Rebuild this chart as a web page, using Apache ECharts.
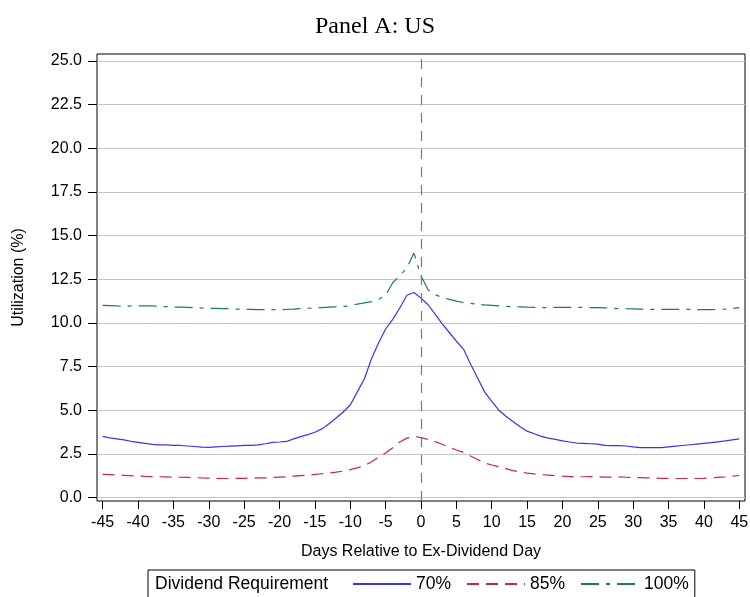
<!DOCTYPE html>
<html>
<head>
<meta charset="UTF-8"/>
<title>Panel A: US</title>
<style>
    * { margin: 0; padding: 0; }
    body { background: #fff; }
    #chart { width: 750px; height: 597px; }
</style>
<script src="https://cdn.jsdelivr.net/npm/echarts@6/dist/echarts.min.js"></script>
</head>
<body>
<div id="chart"></div>
<script>
    // days relative to the ex-dividend day
    const days = []
    for (let d = -45; d <= 45; d++) days.push(d)

    // utilization (%), one value per day
    const util70 = [
        3.50, 3.42, 3.36, 3.30, 3.22, 3.16, 3.10, 3.04, 3.02, 3.01,
        2.99, 2.98, 2.95, 2.92, 2.88, 2.87, 2.90, 2.92, 2.94, 2.96,
        2.98, 2.99, 3.01, 3.08, 3.16, 3.18, 3.21, 3.36, 3.49, 3.60,
        3.74, 3.93, 4.22, 4.55, 4.90, 5.30, 6.05, 6.80, 7.95, 8.85,
        9.65, 10.20, 10.85, 11.58, 11.74, 11.42, 11.04, 10.50, 9.95, 9.45,
        8.95, 8.50, 7.65, 6.85, 6.05, 5.50, 5.00, 4.65, 4.35, 4.05,
        3.80, 3.65, 3.50, 3.40, 3.33, 3.24, 3.18, 3.12, 3.10, 3.08,
        3.06, 2.99, 2.97, 2.97, 2.95, 2.90, 2.86, 2.86, 2.86, 2.86,
        2.90, 2.94, 2.98, 3.02, 3.06, 3.10, 3.14, 3.19, 3.24, 3.30,
        3.36
    ]
    const util85 = [
        1.33, 1.31, 1.29, 1.27, 1.25, 1.23, 1.21, 1.20, 1.19, 1.18,
        1.17, 1.16, 1.15, 1.14, 1.12, 1.11, 1.10, 1.09, 1.09, 1.10,
        1.10, 1.11, 1.12, 1.13, 1.15, 1.17, 1.19, 1.22, 1.25, 1.28,
        1.32, 1.36, 1.40, 1.45, 1.51, 1.60, 1.70, 1.82, 2.05, 2.30,
        2.55, 2.85, 3.18, 3.40, 3.50, 3.43, 3.32, 3.20, 3.05, 2.88,
        2.72, 2.58, 2.38, 2.18, 1.98, 1.86, 1.76, 1.65, 1.54, 1.47,
        1.40, 1.35, 1.31, 1.28, 1.25, 1.22, 1.20, 1.19, 1.19, 1.20,
        1.19, 1.17, 1.17, 1.18, 1.16, 1.15, 1.14, 1.13, 1.12, 1.10,
        1.09, 1.09, 1.09, 1.09, 1.09, 1.10, 1.12, 1.15, 1.18, 1.22,
        1.26
    ]
    const util100 = [
        11.00, 10.99, 10.97, 10.96, 10.97, 10.98, 10.98, 10.97, 10.95, 10.93,
        10.91, 10.90, 10.89, 10.87, 10.85, 10.84, 10.83, 10.82, 10.81, 10.79,
        10.78, 10.77, 10.76, 10.76, 10.76, 10.76, 10.77, 10.79, 10.82, 10.84,
        10.86, 10.88, 10.90, 10.92, 10.94, 10.98, 11.08, 11.15, 11.22, 11.35,
        11.58, 12.30, 12.70, 13.15, 14.00, 12.70, 11.90, 11.62, 11.45, 11.35,
        11.25, 11.17, 11.12, 11.07, 11.03, 11.00, 10.97, 10.95, 10.93, 10.92,
        10.90, 10.89, 10.88, 10.88, 10.89, 10.89, 10.89, 10.89, 10.89, 10.88,
        10.87, 10.86, 10.84, 10.82, 10.81, 10.80, 10.79, 10.78, 10.77, 10.77,
        10.77, 10.77, 10.77, 10.77, 10.76, 10.76, 10.76, 10.77, 10.79, 10.82,
        10.87
    ]

    const xTicks = [-45, -40, -35, -30, -25, -20, -15, -10, -5, 0, 5, 10, 15, 20, 25, 30, 35, 40, 45]
    const yTicks = [0, 2.5, 5, 7.5, 10, 12.5, 15, 17.5, 20, 22.5, 25]

    const seriesNames = ['70%', '85%', '100%']
    const seriesColors = ['#3535ee', '#c42a3c', '#1c7a6c']
    const seriesDash = ['solid', [12, 7], [18, 7, 4, 7]]
    const seriesData = [util70, util85, util100]

    const chart = echarts.init(document.getElementById('chart'))

    const font = 'Liberation Sans, Arial, sans-serif'

    const series = seriesNames.map((name, i) => ({
        name: name,
        type: 'line',
        symbol: 'none',
        showSymbol: false,
        silent: true,
        data: days.map((d, j) => [d, seriesData[i][j]]),
        lineStyle: {color: seriesColors[i], width: 1.2, type: seriesDash[i]},
        itemStyle: {color: seriesColors[i]},
        z: 3
    }))

    // dashed reference line at the ex-dividend day
    series[0].markLine = {
        silent: true,
        symbol: 'none',
        label: {show: false},
        lineStyle: {color: '#7a7a7a', width: 1.2, type: [10, 8]},
        data: [{xAxis: 0}]
    }

    chart.setOption({
        animation: false,
        title: {
            text: 'Panel A: US',
            left: 'center',
            top: 10,
            textStyle: {fontFamily: 'Liberation Serif, Times New Roman, serif', fontSize: 24, fontWeight: 'normal', color: '#000'}
        },
        grid: {
            left: 97, right: 5, top: 54, bottom: 96,
            show: true, borderColor: '#000', borderWidth: 1,
            containLabel: false, outerBoundsMode: 'none'
        },
        xAxis: {
            type: 'value',
            min: -45.8,
            max: 45.8,
            name: 'Days Relative to Ex-Dividend Day',
            nameLocation: 'middle',
            nameGap: 43,
            nameTextStyle: {fontFamily: font, fontSize: 16, color: '#000'},
            axisLine: {show: false, onZero: false},
            axisTick: {show: true, customValues: xTicks, length: 8, lineStyle: {color: '#000'}},
            axisLabel: {customValues: xTicks, fontFamily: font, fontSize: 16, color: '#000', margin: 14},
            splitLine: {show: false}
        },
        yAxis: {
            type: 'value',
            min: -0.2,
            max: 25.4,
            name: 'Utilization (%)',
            nameLocation: 'middle',
            nameGap: 70,
            nameTextStyle: {fontFamily: font, fontSize: 16, color: '#000'},
            axisLine: {show: false, onZero: false},
            axisTick: {show: true, customValues: yTicks, length: 9, lineStyle: {color: '#000'}},
            axisLabel: {customValues: yTicks, fontFamily: font, fontSize: 16, color: '#000', margin: 15,
                formatter: v => Number(v).toFixed(1)},
            splitLine: {show: true, lineStyle: {color: '#c4c4c4', width: 1.2}}
        },
        legend: {
            data: seriesNames,
            left: 148,
            top: 570,
            orient: 'horizontal',
            padding: [5, 6, 5, 204],
            borderColor: '#000',
            borderWidth: 1,
            itemWidth: 58,
            itemHeight: 14,
            itemGap: 15,
            selectedMode: false,
            itemStyle: {opacity: 0},
            textStyle: {fontFamily: font, fontSize: 17.5, color: '#000'}
        },
        graphic: [{
            type: 'text',
            left: 155,
            top: 575,
            style: {text: 'Dividend Requirement', fontFamily: font, fontSize: 17.5, fill: '#000'}
        }],
        series: series
    })
</script>
</body>
</html>
